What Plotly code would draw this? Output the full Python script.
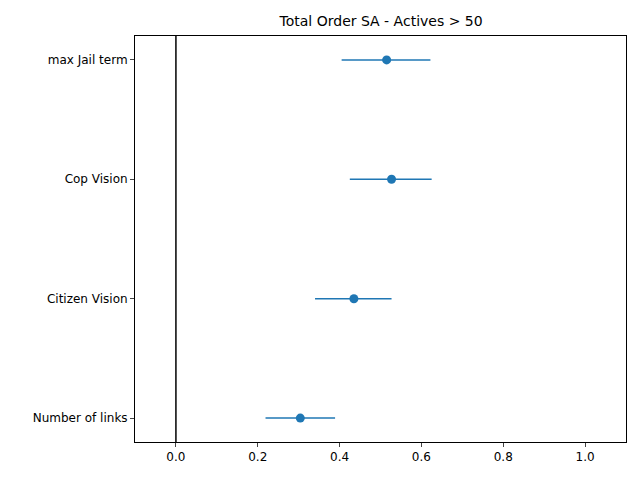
import plotly.graph_objects as go

labels = ["Number of links", "Citizen Vision", "Cop Vision", "max Jail term"]
means = [0.304, 0.435, 0.527, 0.515]
lows = [0.219, 0.340, 0.425, 0.405]
highs = [0.389, 0.527, 0.625, 0.622]

err_plus = [h - m for h, m in zip(highs, means)]
err_minus = [m - l for m, l in zip(means, lows)]
ypos = list(range(len(labels)))

fig = go.Figure()
fig.add_trace(go.Scatter(
    x=means, y=ypos, mode="markers",
    marker=dict(color="#1f77b4", size=9),
    error_x=dict(type="data", symmetric=False, array=err_plus, arrayminus=err_minus,
                 color="#1f77b4", thickness=1.5, width=0),
    showlegend=False,
))
fig.add_vline(x=0, line=dict(color="black", width=1.5))

fig.update_layout(
    width=640, height=480,
    paper_bgcolor="white", plot_bgcolor="white",
    margin=dict(l=127, r=22, t=28, b=46),
    font=dict(family="DejaVu Sans", size=12, color="black"),
    title=dict(text="Total Order SA - Actives > 50", x=0.583, xanchor="center",
               y=0.973, yanchor="middle", font=dict(size=14)),
    xaxis=dict(range=[-0.1, 1.1], tickvals=[0, 0.2, 0.4, 0.6, 0.8, 1.0],
               tickformat=".1f", showgrid=False, zeroline=False,
               showline=True, linecolor="black", mirror=True,
               ticks="outside", ticklen=4),
    yaxis=dict(range=[-0.2, 3.2], tickvals=ypos, ticktext=labels,
               showgrid=False, zeroline=False,
               showline=True, linecolor="black", mirror=True,
               ticks="outside", ticklen=4),
)

fig.write_html("out.html")
